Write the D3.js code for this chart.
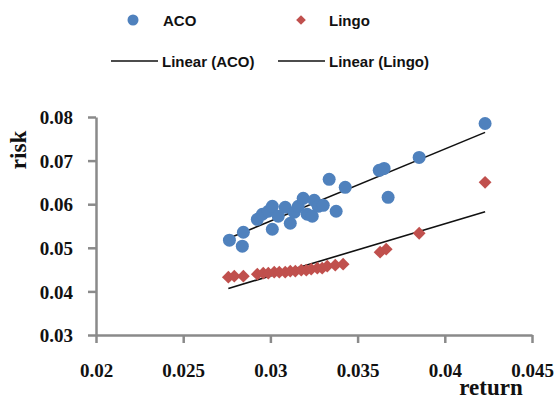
<!DOCTYPE html>
<html>
<head>
<meta charset="utf-8">
<script src="https://cdn.jsdelivr.net/npm/d3@7"></script>
<style>
  body { margin: 0; background: #fff; }
  svg { display: block; }
  .tick-label { font-family: "Liberation Serif", "Times New Roman", serif; font-weight: bold; font-size: 19px; fill: #111; }
  .axis-title { font-family: "Liberation Serif", "Times New Roman", serif; font-weight: bold; font-size: 23px; fill: #111; }
  .legend-text { font-family: "Liberation Sans", Arial, sans-serif; font-weight: bold; font-size: 15px; fill: #111; }
</style>
</head>
<body>
<div id="chart"></div>
<script>
// ---------------------------------------------------------
// DATA
// ---------------------------------------------------------
const acoReturn = [0.02765, 0.02845, 0.02839, 0.02925, 0.02954, 0.02988, 0.03011, 0.03011, 0.03045,
  0.03085, 0.03114, 0.03137, 0.03160, 0.03188, 0.03211, 0.03240, 0.03251, 0.03274, 0.03303,
  0.03337, 0.03377, 0.03429, 0.03624, 0.03652, 0.03675, 0.03853, 0.04231];
const acoRisk = [0.05174, 0.05357, 0.05037, 0.05654, 0.05769, 0.05838, 0.05952, 0.05426, 0.05723,
  0.05929, 0.05563, 0.05815, 0.05952, 0.06135, 0.05769, 0.05723, 0.06089, 0.05952, 0.05975,
  0.06570, 0.05838, 0.06387, 0.06776, 0.06821, 0.06158, 0.07073, 0.07851];

const lingoReturn = [0.02759, 0.02793, 0.02845, 0.02925, 0.02959, 0.02988, 0.03022, 0.03051, 0.03085,
  0.03114, 0.03143, 0.03177, 0.03206, 0.03234, 0.03269, 0.03297, 0.03326, 0.03372, 0.03417,
  0.03629, 0.03664, 0.03853, 0.04231];
const lingoRisk = [0.04327, 0.04350, 0.04350, 0.04396, 0.04419, 0.04419, 0.04442, 0.04442, 0.04442,
  0.04465, 0.04465, 0.04487, 0.04487, 0.04510, 0.04533, 0.04533, 0.04579, 0.04602, 0.04625,
  0.04899, 0.04968, 0.05334, 0.06501];

const xTicks = [0.02, 0.025, 0.03, 0.035, 0.04, 0.045];
const yTicks = [0.03, 0.04, 0.05, 0.06, 0.07, 0.08];

const xLabel = "return";
const yLabel = "risk";

// ---------------------------------------------------------
// SETUP
// ---------------------------------------------------------
const width = 557;
const height = 399;

const blue = "#4F81BD";
const red = "#C0504D";
const axisGrey = "#8a8a8a";

const svg = d3.select("#chart")
    .append("svg")
    .attr("width", width)
    .attr("height", height);

svg.append("rect").attr("width", width).attr("height", height).attr("fill", "#fff");

const x = d3.scaleLinear().domain([0.02, 0.045]).range([96, 532]);
const y = d3.scaleLinear().domain([0.03, 0.08]).range([335, 117]);

// simple least squares, like Excel's linear trendline
function linearFit(xs, ys) {
    const mx = d3.mean(xs), my = d3.mean(ys);
    let sxy = 0, sxx = 0;
    xs.forEach((v, i) => { sxy += (v - mx) * (ys[i] - my); sxx += (v - mx) * (v - mx); });
    const slope = sxy / sxx;
    const x0 = d3.min(xs), x1 = d3.max(xs);
    return [[x0, my + slope * (x0 - mx)], [x1, my + slope * (x1 - mx)]];
}

// ---------------------------------------------------------
// AXES
// ---------------------------------------------------------
const xAxis = svg.append("g")
    .attr("transform", `translate(0,${y(0.03)})`)
    .call(d3.axisBottom(x).tickValues(xTicks).tickSize(8).tickSizeOuter(0)
        .tickFormat(d => String(+d.toFixed(3))));

const yAxis = svg.append("g")
    .attr("transform", `translate(${x(0.02)},0)`)
    .call(d3.axisLeft(y).tickValues(yTicks).tickSize(8).tickSizeOuter(0)
        .tickFormat(d => d.toFixed(2)));

[xAxis, yAxis].forEach(g => {
    g.select(".domain").attr("stroke", axisGrey).attr("stroke-width", 2.5);
    g.selectAll(".tick line").attr("stroke", axisGrey).attr("stroke-width", 2.5);
    g.selectAll(".tick text").attr("class", "tick-label").attr("font-family", null).attr("font-size", null);
});
xAxis.selectAll(".tick text").attr("y", 29);
yAxis.selectAll(".tick text").attr("x", -23).attr("dy", "0.35em");

svg.append("text")
    .attr("class", "axis-title")
    .attr("x", 491)
    .attr("y", 395)
    .attr("text-anchor", "middle")
    .text(xLabel);

svg.append("text")
    .attr("class", "axis-title")
    .attr("transform", "translate(26,150) rotate(-90)")
    .attr("text-anchor", "middle")
    .text(yLabel);

// ---------------------------------------------------------
// TRENDLINES
// ---------------------------------------------------------
const line = d3.line().x(d => x(d[0])).y(d => y(d[1]));

svg.append("path")
    .attr("d", line(linearFit(acoReturn, acoRisk)))
    .attr("stroke", "#111").attr("stroke-width", 1.6).attr("fill", "none");

svg.append("path")
    .attr("d", line(linearFit(lingoReturn, lingoRisk)))
    .attr("stroke", "#111").attr("stroke-width", 1.6).attr("fill", "none");

// ---------------------------------------------------------
// POINTS
// ---------------------------------------------------------
const diamond = d3.symbol().type(d3.symbolDiamond2).size(105);

svg.append("g").selectAll("path")
    .data(lingoReturn.map((v, i) => [v, lingoRisk[i]]))
    .join("path")
    .attr("d", diamond)
    .attr("transform", d => `translate(${x(d[0])},${y(d[1])})`)
    .attr("fill", red);

svg.append("g").selectAll("circle")
    .data(acoReturn.map((v, i) => [v, acoRisk[i]]))
    .join("circle")
    .attr("cx", d => x(d[0]))
    .attr("cy", d => y(d[1]))
    .attr("r", 6.5)
    .attr("fill", blue);

// ---------------------------------------------------------
// LEGEND
// ---------------------------------------------------------
const legend = svg.append("g");

legend.append("circle").attr("cx", 133).attr("cy", 20).attr("r", 5.5).attr("fill", blue);
legend.append("text").attr("class", "legend-text").attr("x", 163).attr("y", 26).text("ACO");

legend.append("path").attr("d", d3.symbol().type(d3.symbolDiamond2).size(60))
    .attr("transform", "translate(301,20)").attr("fill", red);
legend.append("text").attr("class", "legend-text").attr("x", 329).attr("y", 26).text("Lingo");

legend.append("line").attr("x1", 111).attr("x2", 158).attr("y1", 61).attr("y2", 61)
    .attr("stroke", "#111").attr("stroke-width", 1.6);
legend.append("text").attr("class", "legend-text").attr("x", 162).attr("y", 67).text("Linear (ACO)");

legend.append("line").attr("x1", 278).attr("x2", 325).attr("y1", 61).attr("y2", 61)
    .attr("stroke", "#111").attr("stroke-width", 1.6);
legend.append("text").attr("class", "legend-text").attr("x", 329).attr("y", 67).text("Linear (Lingo)");
</script>
</body>
</html>
